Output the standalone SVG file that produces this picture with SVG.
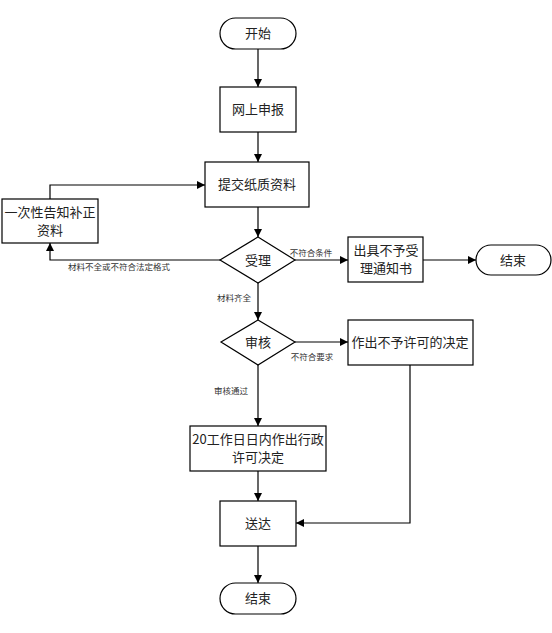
<svg xmlns="http://www.w3.org/2000/svg" width="552" height="633" viewBox="0 0 552 633">
<defs>
<marker id="arr" viewBox="0 0 10 10" refX="10" refY="5" markerWidth="8" markerHeight="8" markerUnits="userSpaceOnUse" orient="auto">
<path d="M0,0 L10,5 L0,10 Z" fill="#000"/>
</marker>
</defs>
<style>
.shape{fill:#fff;stroke:#000;stroke-width:1.2}
.t{font-family:"Noto Sans CJK SC","Liberation Serif",sans-serif;font-size:13px;fill:#222;text-anchor:middle}
.s{font-family:"Noto Sans CJK SC","Liberation Sans",sans-serif;font-size:8.5px;fill:#333;text-anchor:middle}
.c{fill:none;stroke:#000;stroke-width:1.2;marker-end:url(#arr)}
</style>
<rect width="552" height="633" fill="#fff"/>
<g id="connectors">
<line class="c" x1="258" y1="49" x2="258" y2="87"/>
<line class="c" x1="258" y1="132" x2="258" y2="162"/>
<line class="c" x1="258" y1="207" x2="258" y2="237"/>
<polyline class="c" points="50,199 50,185 205,185"/>
<polyline class="c" points="220,260 50,260 50,243"/>
<line class="c" x1="295" y1="260" x2="348" y2="260"/>
<line class="c" x1="423" y1="260" x2="476" y2="260"/>
<line class="c" x1="258" y1="283" x2="258" y2="320"/>
<line class="c" x1="295" y1="342" x2="348" y2="342"/>
<line class="c" x1="258" y1="365" x2="258" y2="426"/>
<line class="c" x1="258" y1="471" x2="258" y2="501"/>
<polyline class="c" points="410,365 410,523 296,523"/>
<line class="c" x1="258" y1="546" x2="258" y2="583"/>
<text class="s" x="119" y="270">材料不全或不符合法定格式</text>
<text class="s" x="311" y="256">不符合条件</text>
<text class="s" x="234" y="301">材料齐全</text>
<text class="s" x="312" y="360">不符合要求</text>
<text class="s" x="231" y="394">审核通过</text>
</g>
<g id="start">
<rect class="shape" x="220" y="18" width="76" height="31" rx="15.5"/>
<text class="t" x="258" y="38">开始</text>
</g>
<g id="online">
<rect class="shape" x="220" y="87" width="76" height="45"/>
<text class="t" x="258" y="114">网上申报</text>
</g>
<g id="submit">
<rect class="shape" x="205" y="162" width="104" height="45"/>
<text class="t" x="257" y="189">提交纸质资料</text>
</g>
<g id="notify">
<rect class="shape" x="2" y="199" width="96" height="44"/>
<text class="t" x="50" y="217">一次性告知补正</text>
<text class="t" x="50" y="235">资料</text>
</g>
<g id="accept">
<polygon class="shape" points="258,237 295,260 258,283 220,260"/>
<text class="t" x="258" y="265">受理</text>
</g>
<g id="reject-notice">
<rect class="shape" x="348" y="237" width="75" height="45"/>
<text class="t" x="386" y="255">出具不予受</text>
<text class="t" x="386" y="273">理通知书</text>
</g>
<g id="end-right">
<rect class="shape" x="476" y="245" width="75" height="30" rx="15"/>
<text class="t" x="513" y="265">结束</text>
</g>
<g id="review">
<polygon class="shape" points="258,320 295,342 258,365 221,342"/>
<text class="t" x="258" y="347">审核</text>
</g>
<g id="deny">
<rect class="shape" x="348" y="320" width="125" height="45"/>
<text class="t" x="410" y="347">作出不予许可的决定</text>
</g>
<g id="decide">
<rect class="shape" x="190" y="426" width="136" height="45"/>
<text class="t" x="258" y="444">20工作日日内作出行政</text>
<text class="t" x="258" y="462">许可决定</text>
</g>
<g id="deliver">
<rect class="shape" x="220" y="501" width="76" height="45"/>
<text class="t" x="258" y="528">送达</text>
</g>
<g id="end">
<rect class="shape" x="220" y="583" width="76" height="31" rx="15.5"/>
<text class="t" x="258" y="603">结束</text>
</g>
</svg>
